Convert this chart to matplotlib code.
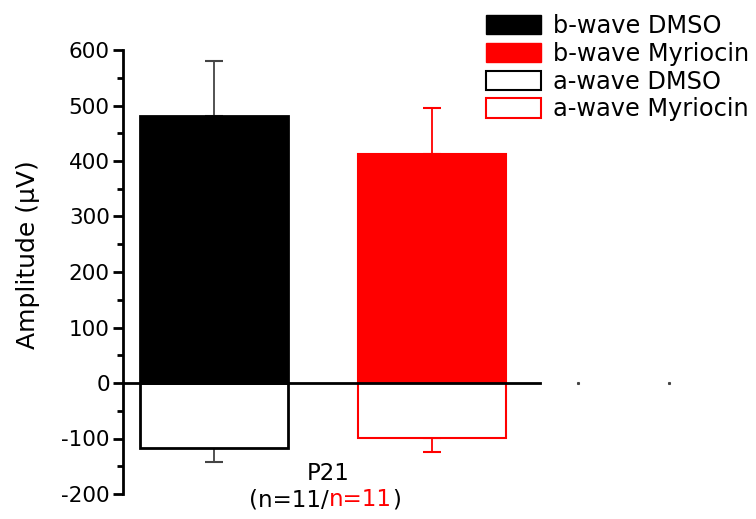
import numpy as np
import matplotlib.pyplot as plt
from matplotlib.patches import Patch
from matplotlib.ticker import MultipleLocator

plt.rcParams["font.family"] = ["DejaVu Sans"]
plt.rcParams["axes.unicode_minus"] = False

# --- data ---
groups = ["DMSO", "Myriocin"]
b_wave = [481, 413]
b_wave_err = [99, 82]
a_wave = [-117, -99]
a_wave_err = [25, 25]
colors = ["black", "red"]
empty_slots = [1.67, 2.087]   # faint markers of the empty groups right of the axis line

x = np.arange(len(groups))
width = 0.68

fig = plt.figure(figsize=(7.56, 5.19), dpi=100)
ax = fig.add_axes([123 / 756, 25 / 519, 577 / 756, 444 / 519])

for i in range(len(groups)):
    c = colors[i]
    lw = 2.0 if c == "black" else 1.5
    ec = "#444444" if c == "black" else c
    # b-wave: filled bar, error bar upward
    ax.bar(x[i], b_wave[i], width, color=c, edgecolor=c, linewidth=lw, zorder=2)
    ax.errorbar(x[i], b_wave[i], yerr=[[0], [b_wave_err[i]]], fmt="none",
                ecolor=ec, elinewidth=1.3, capsize=6.5, capthick=1.5, zorder=1)
    # a-wave: empty bar, error bar downward
    ax.bar(x[i], a_wave[i], width, color="white", edgecolor=c, linewidth=lw, zorder=2)
    ax.errorbar(x[i], a_wave[i], yerr=[[a_wave_err[i]], [0]], fmt="none",
                ecolor=ec, elinewidth=1.3, capsize=6.5, capthick=1.5, zorder=1)

# zero line
ax.plot([-0.417, 1.495], [0, 0], color="black", lw=2, zorder=3, clip_on=False)
ax.plot(empty_slots, [0] * len(empty_slots), ls="none", marker="s", ms=1.2,
        color="#444444", clip_on=False)

ax.set_xlim(-0.417, 2.23)
ax.set_ylim(-200, 600)
for s in ["top", "right", "bottom"]:
    ax.spines[s].set_visible(False)
ax.spines["left"].set_linewidth(2)
ax.set_xticks([])
ax.yaxis.set_major_locator(MultipleLocator(100))
ax.yaxis.set_minor_locator(MultipleLocator(50))
ax.tick_params(axis="y", which="major", length=7, width=2, labelsize=15.5,
               direction="out", pad=2.5)
ax.tick_params(axis="y", which="minor", length=4, width=2)
ax.set_ylabel("Amplitude (\u03bcV)", fontsize=18)
ax.yaxis.set_label_coords(-0.144, 0.54)

# group label with coloured n
fig.text(328 / 756, 1 - 474 / 519, "P21", fontsize=16.5, ha="center", va="center")
t1 = fig.text(249 / 756, 1 - 500 / 519, "(n=11/", fontsize=16.5, ha="left", va="center")
t2 = ax.annotate("n=11", xy=(1, 0), xycoords=t1, fontsize=16.5, ha="left",
                 va="bottom", color="red")
ax.annotate(")", xy=(1, 0), xycoords=t2, fontsize=16.5, ha="left", va="bottom")

handles = [
    Patch(facecolor="black", edgecolor="black", label="b-wave DMSO"),
    Patch(facecolor="red", edgecolor="red", label="b-wave Myriocin"),
    Patch(facecolor="white", edgecolor="black", linewidth=1.5, label="a-wave DMSO"),
    Patch(facecolor="white", edgecolor="red", linewidth=1.5, label="a-wave Myriocin"),
]
fig.legend(handles=handles, loc="upper left", bbox_to_anchor=(469 / 756, 1 + 3 / 519),
           frameon=False, fontsize=17.3, handlelength=2.3, handleheight=0.85,
           labelspacing=0.16, handletextpad=0.5, borderaxespad=0.3)

fig.savefig("out.png", dpi=100)
